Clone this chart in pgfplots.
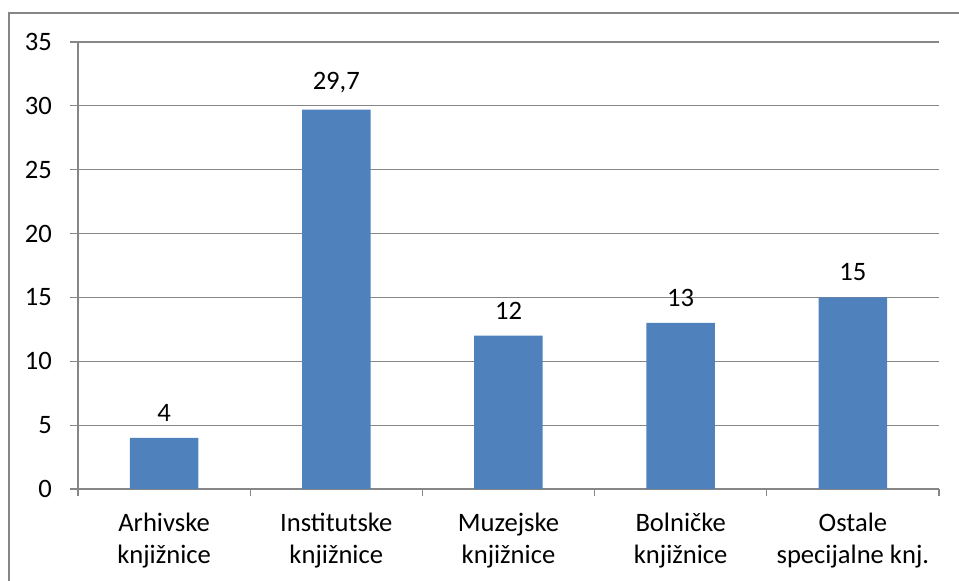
\documentclass[border=0pt]{standalone}
\usepackage{fontspec}
\setmainfont{Carlito}
\usepackage{pgfplots}
\pgfplotsset{compat=1.18}
\definecolor{barblue}{HTML}{4F81BD}
\definecolor{gridgray}{HTML}{868686}
\begin{document}
\fontsize{13}{15.5}\selectfont
\begin{tikzpicture}
\useasboundingbox (-39pt,-46pt) rectangle (440.5pt,244.5pt);
\draw[gridgray, line width=0.6pt] (-34.5pt,-80pt) rectangle (480pt,238pt);
\begin{axis}[
  at={(0pt,0pt)}, anchor=south west,
  scale only axis, width=430.5pt, height=223.5pt,
  xmin=-0.5, xmax=4.5, ymin=0, ymax=35,
  ytick={0,5,...,35},
  xtick={0,...,4},
  xticklabels={Arhivske\\knjižnice, Institutske\\knjižnice, Muzejske\\knjižnice, Bolničke\\knjižnice, Ostale\\specijalne knj.},
  minor xtick={-0.5,0.5,...,4.5},
  major x tick style={draw=none},
  ymajorgrids,
  grid style={gridgray, line width=0.6pt},
  axis x line*=bottom, axis y line*=left,
  axis line style={gridgray, line width=0.6pt, -},
  tick style={gridgray, line width=0.6pt},
  tick align=outside,
  major tick length=4pt, minor tick length=3.5pt,
  /pgf/number format/assume math mode=true,
  ticklabel style={font=\fontsize{13.3}{16}\selectfont},
  xticklabel style={align=center, yshift=-3.5pt},
  yticklabel style={xshift=-4.5pt},
  ybar, bar width=34.25pt,
  nodes near coords={\pgfmathprintnumber[use comma]{\pgfplotspointmeta}},
  every node near coord/.append style={font=\fontsize{13.3}{16}\selectfont, black, yshift=3.8pt},
]
\addplot[fill=barblue, draw=none] coordinates {(0,4) (1,29.7) (2,12) (3,13) (4,15)};
\end{axis}
\end{tikzpicture}
\end{document}
